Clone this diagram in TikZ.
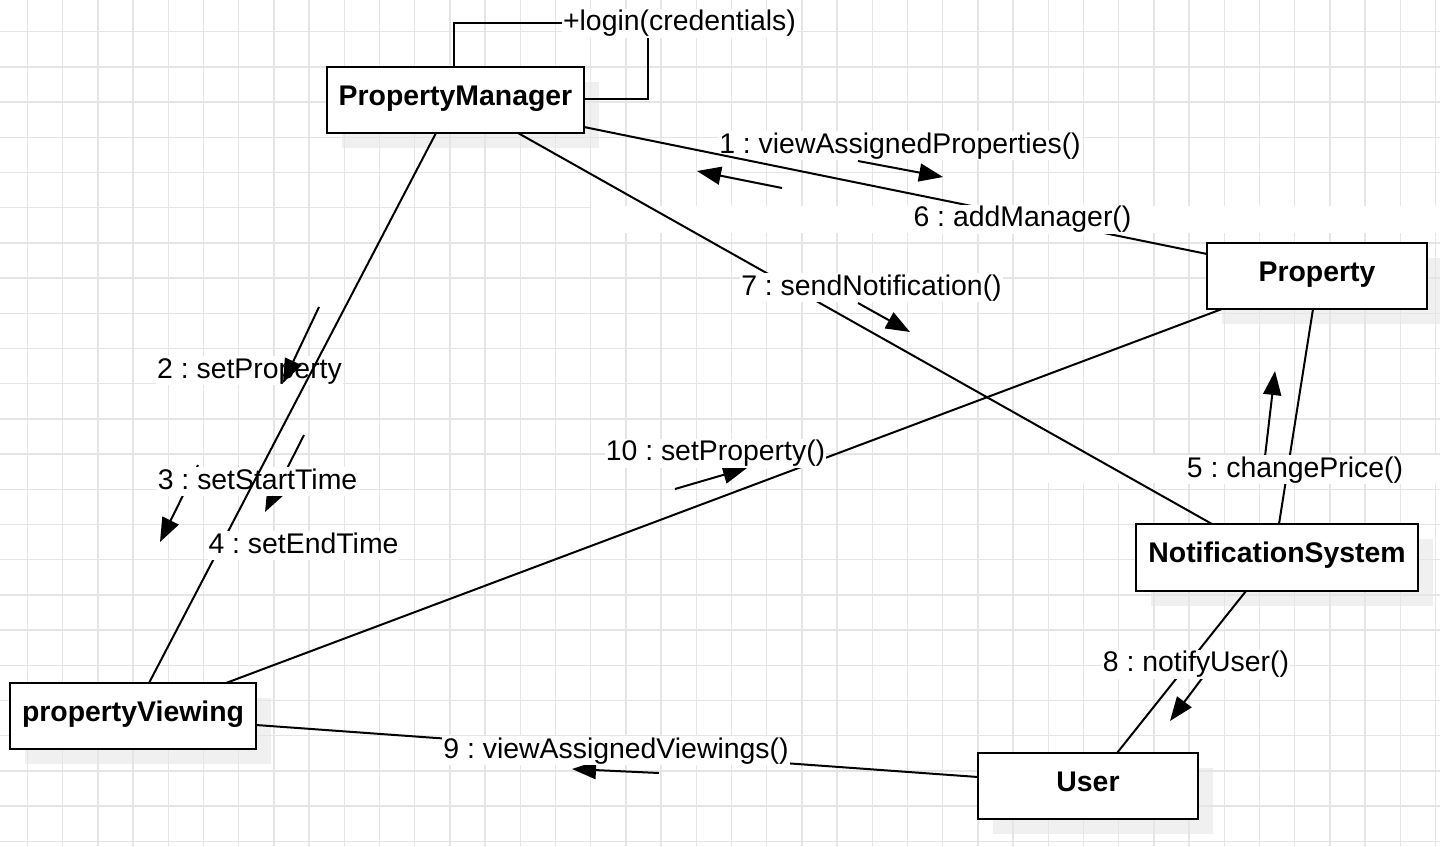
\documentclass[tikz,border=0pt]{standalone}
\usepackage{fontspec}
\setmainfont{Liberation Sans}
\usetikzlibrary{arrows.meta}
\frenchspacing
\begin{document}
\begin{tikzpicture}[x=0.5pt,y=-0.5pt,
  box/.style={draw=black,line width=1pt,fill=white,rectangle,inner sep=0pt,outer sep=0pt,
    text height=9pt,text depth=4pt,font=\fontsize{14.2pt}{16pt}\selectfont\bfseries},
  shadowbox/.style={fill=black!6},
  link/.style={line width=1pt},
  msg/.style={line width=1pt,-{Triangle[length=12pt,width=9pt]}},
  lbl/.style={fill=white,inner sep=0.5pt,text height=10.5pt,text depth=3pt,
    font=\fontsize{14.2pt}{16pt}\selectfont},
  gridline/.style={draw=black!10,line width=0.7pt}]

\useasboundingbox (0,0) rectangle (1440,846);
\fill[white] (0,0) rectangle (1440,846);

% shadows
\fill[shadowbox] (342,82) rectangle (599,148);
\fill[shadowbox] (1222,258) rectangle (1442,324);
\fill[shadowbox] (1151,539) rectangle (1433,606);
\fill[shadowbox] (25,698) rectangle (271,764);
\fill[shadowbox] (993,768) rectangle (1213,834);

% grid
\foreach \k in {0,...,40} \draw[gridline] ({27.5+35.2*\k},0) -- ({27.5+35.2*\k},846);
\foreach \k in {0,...,23} \draw[gridline] (0,{31.7+35.2*\k}) -- (1440,{31.7+35.2*\k});
\fill[white] (591,206) rectangle (1440,233);
\fill[white] (1040,455) rectangle (1440,483);

% objects
\node[box,minimum width=128.5pt,minimum height=33pt] (pm) at (455.5,100) {PropertyManager};
\node[box,minimum width=110pt,minimum height=33pt] (prop) at (1317,276) {Property};
\node[box,minimum width=141pt,minimum height=33.5pt] (ns) at (1277,557.5) {NotificationSystem};
\node[box,minimum width=123pt,minimum height=33pt] (pv) at (133,716) {propertyViewing};
\node[box,minimum width=110pt,minimum height=33pt] (user) at (1088,786) {User};

% links
\draw[link] ([xshift=7.5pt]prop.south west) -- ([xshift=108pt]pv.north west);
\draw[link] ([xshift=95.5pt]pm.south west) -- ([xshift=38pt]ns.north west);
\draw[link] ([xshift=53pt]prop.south west) -- ([xshift=71.5pt]ns.north west);
\draw[link] ([xshift=55pt]ns.south west) -- ([xshift=69.5pt]user.north west);
\draw[link] ([yshift=12pt]pv.south east) -- ([yshift=21pt]user.south west);
\draw[link] ([xshift=63.5pt]pm.north west) |- (648,23) |- ([yshift=17pt]pm.south east);

\node[lbl] (l1) at (900,145.5) {1 : viewAssignedProperties()};
\draw[link] ([yshift=3pt]pm.south east) -- ([yshift=-5.5pt]prop.north west);

% message arrows
\draw[msg] (858,161) -- (943,177);
\draw[msg] (782,188) -- (697,171);
\draw[msg] (858,303) -- (910,332);
\draw[msg] (198,465) -- (160,542);
\draw[msg] (304,435) -- (265,512);
\draw[msg] (1264,465) -- (1275,371);
\draw[msg] (1212,665) -- (1170,721);
\draw[msg] (659,773) -- (572,769);
\draw[msg] (675,489) -- (747,468);

% labels
\node[lbl] (llogin) at (679.5,23) {+login(credentials)};
\node[lbl] (l6) at (1022.5,219) {6 : addManager()};
\node[lbl] (l7) at (871.5,287.5) {7 : sendNotification()};
\node[lbl] (l3) at (257.5,481.5) {3 : setStartTime};
\node[lbl] (l2) at (249.5,370.5) {2 : setProperty};
\node[lbl] (l5) at (1295,469.5) {5 : changePrice()};
\node[lbl] (l8) at (1196,664) {8 : notifyUser()};
\node[lbl] (l9) at (616,750.5) {9 : viewAssignedViewings()};
\node[lbl] (l10) at (715.5,453) {10 : setProperty()};

\draw[link] ([xshift=54.5pt]pm.south west) -- ([xshift=69.5pt]pv.north west);
\draw[msg] (319,307) -- (283,383);
\node[lbl] (l4) at (303.5,545.5) {4 : setEndTime};
\end{tikzpicture}
\end{document}
